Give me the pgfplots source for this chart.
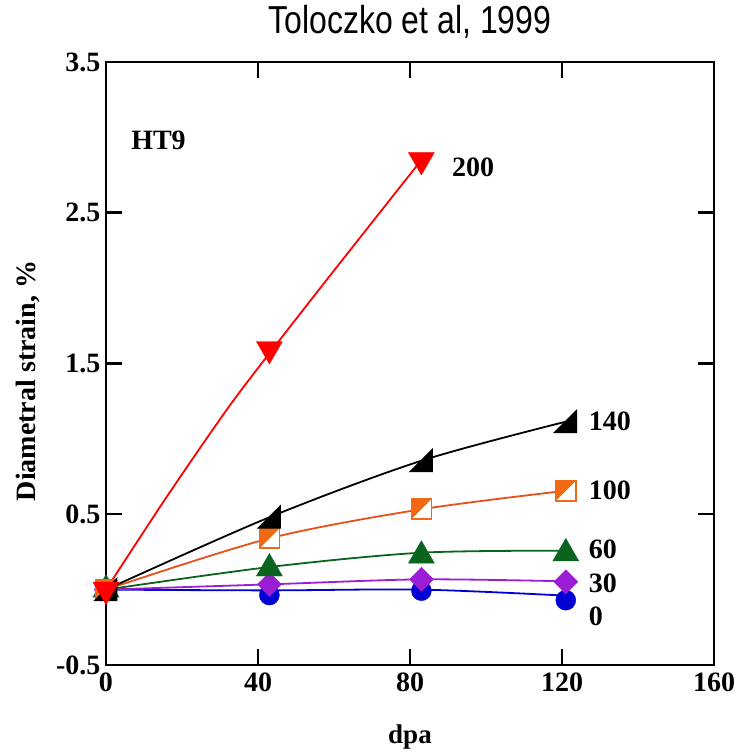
\documentclass[border=0pt]{standalone}
\usepackage{pgfplots}
\pgfplotsset{compat=1.18}
\usepackage{fontspec}
\setmainfont{Liberation Serif}
\newfontfamily\titlefont[FakeStretch=0.82]{Liberation Sans}
\definecolor{cred}{RGB}{255,0,0}
\definecolor{corange}{RGB}{240,105,20}
\definecolor{corangeline}{RGB}{232,80,26}
\definecolor{cgreen}{RGB}{10,100,30}
\definecolor{cpurple}{RGB}{155,30,214}
\definecolor{cblue}{RGB}{0,0,210}
\pgfdeclareplotmark{rtri}{%
 \pgfpathmoveto{\pgfqpoint{-\pgfplotmarksize}{-\pgfplotmarksize}}%
 \pgfpathlineto{\pgfqpoint{\pgfplotmarksize}{-\pgfplotmarksize}}%
 \pgfpathlineto{\pgfqpoint{\pgfplotmarksize}{\pgfplotmarksize}}%
 \pgfpathclose\pgfusepathqfillstroke}
\pgfdeclareplotmark{halfsq}{%
 \begin{pgfscope}\pgfsetfillcolor{white}%
 \pgfpathrectangle{\pgfqpoint{-\pgfplotmarksize}{-\pgfplotmarksize}}{\pgfqpoint{2\pgfplotmarksize}{2\pgfplotmarksize}}%
 \pgfusepathqfill\end{pgfscope}%
 \pgfpathmoveto{\pgfqpoint{-\pgfplotmarksize}{-\pgfplotmarksize}}%
 \pgfpathlineto{\pgfqpoint{-\pgfplotmarksize}{\pgfplotmarksize}}%
 \pgfpathlineto{\pgfqpoint{\pgfplotmarksize}{\pgfplotmarksize}}%
 \pgfpathclose\pgfusepathqfill
 \pgfpathrectangle{\pgfqpoint{-\pgfplotmarksize}{-\pgfplotmarksize}}{\pgfqpoint{2\pgfplotmarksize}{2\pgfplotmarksize}}%
 \pgfusepathqstroke}
\begin{document}
\begin{tikzpicture}
\begin{axis}[
  scale only axis,
  width=608pt, height=603pt,
  xmin=0, xmax=160, ymin=-0.5, ymax=3.5,
  xtick={0,40,80,120,160},
  ytick={-0.5,0.5,1.5,2.5,3.5},
  yticklabels={{-0.5},{0.5},{1.5},{2.5},{3.5}},
  xticklabels={{0},{40},{80},{120},{160}},
  axis line style={line width=2.5pt},
  major tick style={line width=2.5pt, black},
  major tick length=16pt,
  tick align=inside,
  ticklabel style={font=\fontsize{28}{32}\selectfont\bfseries},
  yticklabel style={xshift=-2pt},
  xticklabel style={yshift=-4pt},
  xlabel={dpa},
  ylabel={Diametral strain, \%},
  xlabel style={font=\fontsize{27}{30}\selectfont\bfseries, at={(axis description cs:0.5,-0.12)}, anchor=center},
  ylabel style={font=\fontsize{28}{32}\selectfont\bfseries, at={(axis description cs:-0.128,0.471)}, anchor=center},
  title={Toloczko et al, 1999},
  title style={font=\fontsize{39}{44}\titlefont, at={(axis description cs:0.5,1)}, anchor=base, yshift=22pt},
  clip=false,
]
% 0
\addplot[cblue, line width=1.8pt, smooth] coordinates {(0,0) (43,-0.005) (83,0.0) (121,-0.04)};
\addplot[only marks, mark=*, mark size=10pt, cblue] coordinates {(0,0) (43,-0.036) (83,-0.007) (121,-0.07)};
% 30
\addplot[cpurple, line width=1.8pt, smooth] coordinates {(0,0) (43,0.035) (83,0.068) (121,0.055)};
\addplot[only marks, mark=diamond*, mark size=12pt, mark options={xscale=1.33}, cpurple] coordinates {(0,0) (43,0.035) (83,0.068) (121,0.052)};
% 60
\addplot[cgreen, line width=1.8pt, smooth] coordinates {(0,0) (43,0.15) (83,0.245) (121,0.258)};
\addplot[only marks, mark=triangle*, mark size=15pt, cgreen] coordinates {(0,0) (43,0.14) (83,0.225) (121,0.24)};
% 100
\addplot[corangeline, line width=1.8pt, smooth, mark=halfsq, mark size=10pt, mark options={draw=corange, fill=corange, line width=1.8pt}] coordinates {(0,0) (43,0.34) (83,0.533) (121,0.656)};
% 140
\addplot[black, line width=1.8pt, smooth, mark=rtri, mark size=10.5pt, mark options={fill=black}] coordinates {(0,0) (43,0.48) (83,0.855) (121,1.114)};
% 200
\addplot[cred, line width=1.8pt, smooth, tension=0.4] coordinates {(0,0) (16.1,0.62) (33.4,1.25) (54.5,1.94) (83,2.85)};
\addplot[only marks, mark=triangle*, mark size=15pt, mark options={rotate=180}, cred] coordinates {(0,0) (43,1.596) (83,2.85)};
\begin{scope}[every node/.style={font=\fontsize{28}{32}\selectfont\bfseries, anchor=west, inner sep=0pt}]
\node at (axis cs:91,2.80) {200};
\node at (axis cs:127,1.114) {140};
\node at (axis cs:127,0.66) {100};
\node at (axis cs:127,0.27) {60};
\node at (axis cs:127,0.044) {30};
\node at (axis cs:127,-0.18) {0};
\node at (axis cs:6.6,2.98) {HT9};
\end{scope}
\end{axis}
\pgfresetboundingbox
\path (current axis.south west) ++(-106pt,-89pt) rectangle ++(737pt,754pt);
\end{tikzpicture}
\end{document}
